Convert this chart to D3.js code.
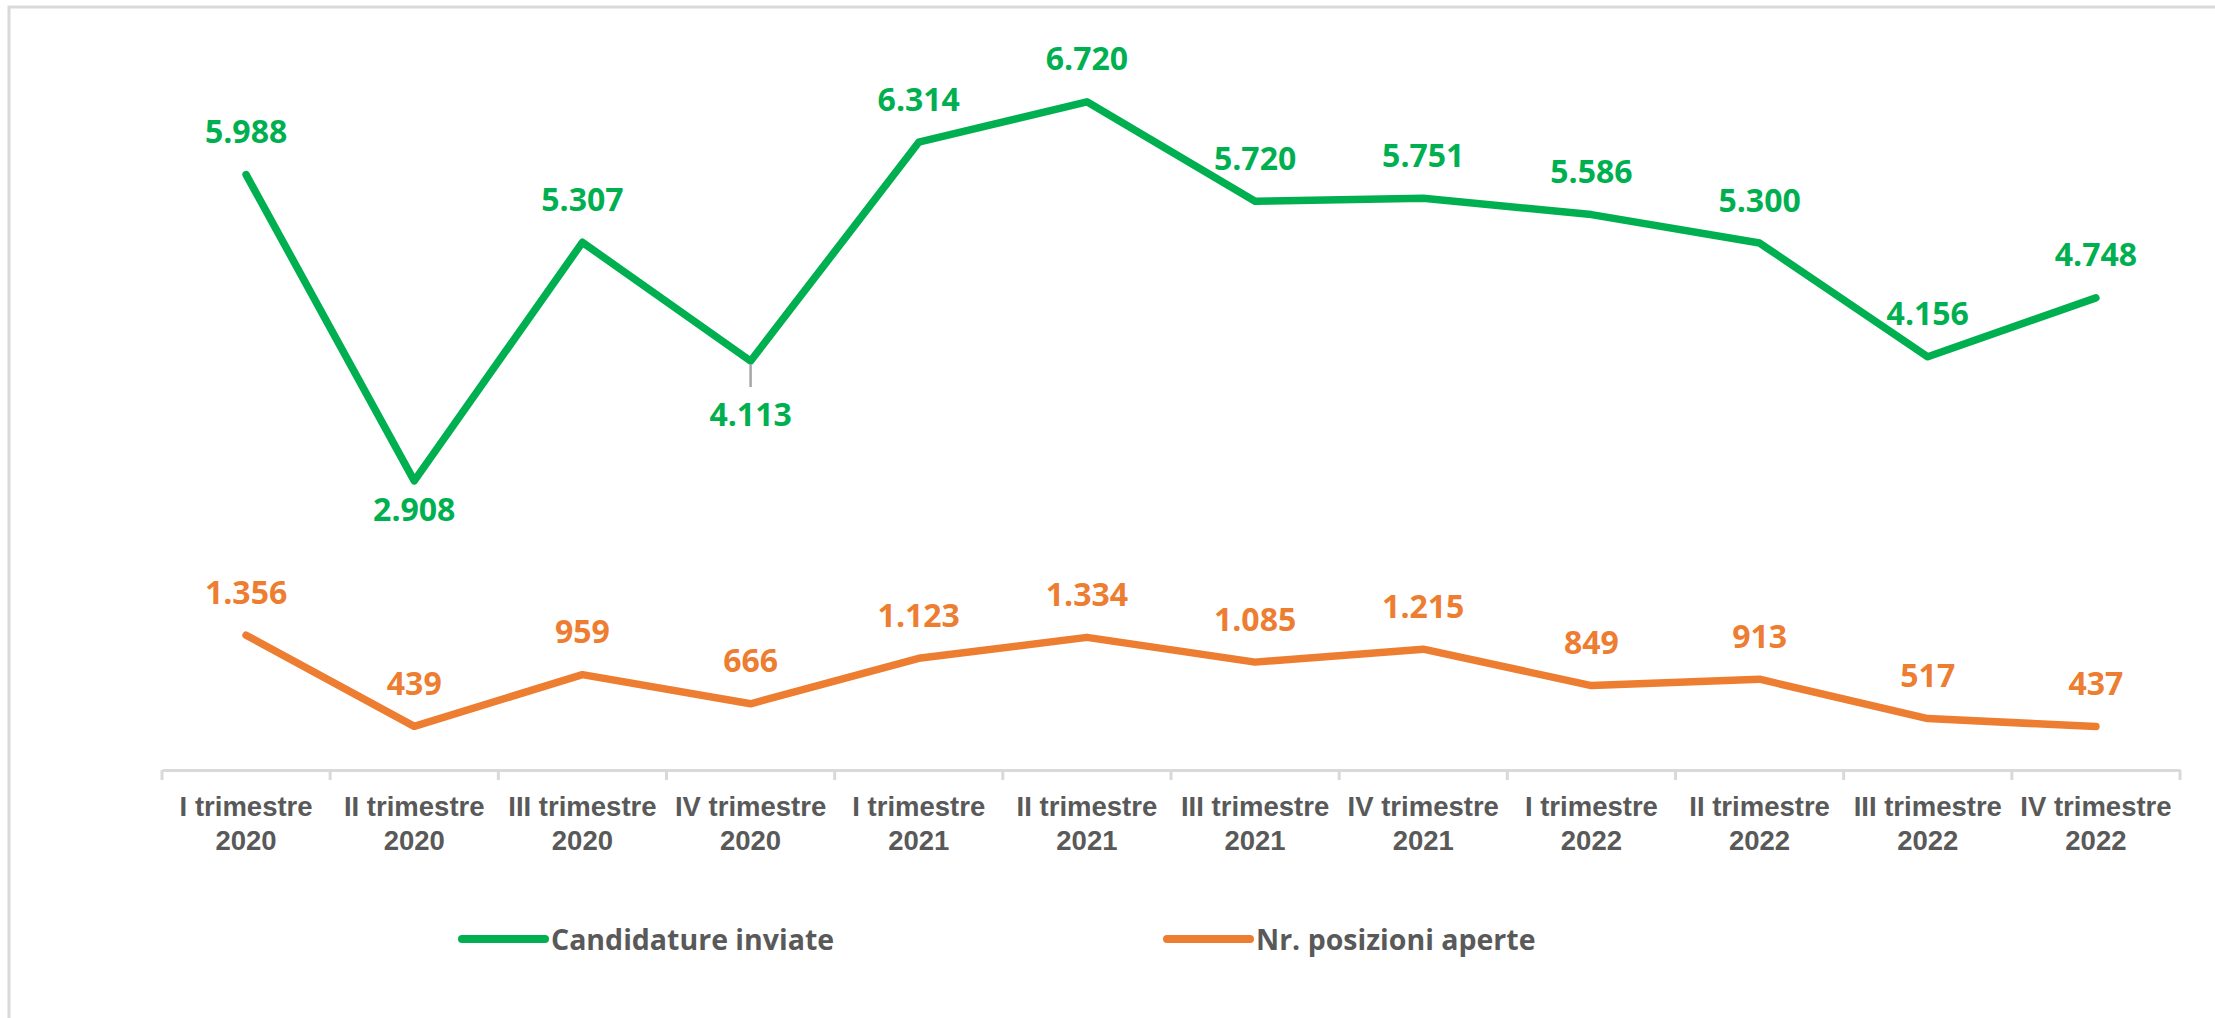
<!DOCTYPE html>
<html>
<head>
<meta charset="utf-8">
<script src="https://cdn.jsdelivr.net/npm/d3@7"></script>
<style>
  html, body { margin: 0; padding: 0; background: #fff; }
  svg { display: block; font-family: "Open Sans", "Liberation Sans", sans-serif; }
</style>
</head>
<body>
<svg id="chart" width="2215" height="1018"></svg>
<script>
// ── Data ──────────────────────────────────────────────────
const quarters   = ['I trimestre', 'II trimestre', 'III trimestre', 'IV trimestre'];
const years      = ['2020', '2021', '2022'];
const categories = years.flatMap(y => quarters.map(q => `${q}|${y}`));

const candidature = [5988, 2908, 5307, 4113, 6314, 6720, 5720, 5751, 5586, 5300, 4156, 4748];
const posizioni   = [1356, 439, 959, 666, 1123, 1334, 1085, 1215, 849, 913, 517, 437];

// label placement: 'above' | 'below' | 'leader' (below with a small leader line)
const candPos = ['above', 'below', 'above', 'leader', 'above', 'above', 'above', 'above', 'above', 'above', 'above', 'above'];

const SERIES = [
  { name: 'Candidature inviate',   values: candidature, color: '#00B050', pos: candPos },
  { name: 'Nr. posizioni aperte',  values: posizioni,   color: '#ED7D31', pos: null },
];

// ── Layout ────────────────────────────────────────────────
const W = 2215, H = 1018;
const plot = { left: 162, right: 2180, top: 74, bottom: 770 };

const svg = d3.select('#chart');

// frame (left + top edge visible)
svg.append('path')
  .attr('d', `M9,${H} L9,7 L${W},7`)
  .attr('fill', 'none')
  .attr('stroke', '#d9d9d9')
  .attr('stroke-width', 3);

const x = d3.scaleBand().domain(categories).range([plot.left, plot.right]);
const y = d3.scaleLinear().domain([0, 7000]).range([plot.bottom, plot.top]);
const fmt = v => d3.format(',')(v).replace(/,/g, '.');

// ── Axis ──────────────────────────────────────────────────
const xAxis = svg.append('g')
  .attr('transform', `translate(0,${plot.bottom})`)
  .call(d3.axisBottom(x).tickSize(0).tickPadding(0).tickFormat(''));
xAxis.select('.domain').attr('stroke', '#d9d9d9').attr('stroke-width', 3);

// tick marks on category boundaries
const bounds = d3.range(categories.length + 1).map(i => plot.left + i * x.step());
xAxis.selectAll('.bound')
  .data(bounds).join('line')
  .attr('class', 'bound')
  .attr('x1', d => d).attr('x2', d => d)
  .attr('y1', 0).attr('y2', 10)
  .attr('stroke', '#d9d9d9').attr('stroke-width', 3);

const lbl = xAxis.selectAll('.tick text')
  .attr('fill', '#595959')
  .attr('font-size', 27.5)
  .attr('font-weight', 700)
  .attr('y', 0)
  .attr('dy', null);
lbl.each(function (d) {
  const [q, yr] = d.split('|');
  const t = d3.select(this);
  t.append('tspan').attr('x', 0).attr('y', 46).text(q);
  t.append('tspan').attr('x', 0).attr('y', 80).text(yr);
});

// ── Lines ─────────────────────────────────────────────────
const line = d3.line()
  .x((d, i) => x(categories[i]) + x.bandwidth() / 2)
  .y(d => y(d));

SERIES.forEach(s => {
  svg.append('path')
    .datum(s.values)
    .attr('fill', 'none')
    .attr('stroke', s.color)
    .attr('stroke-width', 7.5)
    .attr('stroke-linejoin', 'round')
    .attr('stroke-linecap', 'round')
    .attr('d', line);

  const g = svg.append('g');
  s.values.forEach((v, i) => {
    const cx = x(categories[i]) + x.bandwidth() / 2;
    const cy = y(v);
    const pos = s.pos ? s.pos[i] : 'above';
    let ly = cy - 44;
    if (pos === 'below')  ly = cy + 28;
    if (pos === 'leader') {
      ly = cy + 52;
      g.append('line')
        .attr('x1', cx).attr('x2', cx)
        .attr('y1', cy + 3).attr('y2', cy + 26)
        .attr('stroke', '#a6a6a6').attr('stroke-width', 2.5);
    }
    g.append('text')
      .attr('x', cx).attr('y', ly)
      .attr('text-anchor', 'middle')
      .attr('dominant-baseline', 'central')
      .attr('fill', s.color)
      .attr('font-size', 32)
      .attr('font-weight', 700)
      .text(fmt(v));
  });
});

// ── Legend ────────────────────────────────────────────────
const legendX = [462, 1167];
const legend = svg.append('g').attr('transform', 'translate(0,939)');
SERIES.forEach((s, i) => {
  const lg = legend.append('g').attr('transform', `translate(${legendX[i]},0)`);
  lg.append('line')
    .attr('x1', 0).attr('x2', 83)
    .attr('stroke', s.color).attr('stroke-width', 8)
    .attr('stroke-linecap', 'round');
  lg.append('text')
    .attr('x', 89).attr('y', 0)
    .attr('dominant-baseline', 'central')
    .attr('fill', '#595959')
    .attr('font-size', 28.5)
    .attr('font-weight', 700)
    .text(s.name);
});
</script>
</body>
</html>
